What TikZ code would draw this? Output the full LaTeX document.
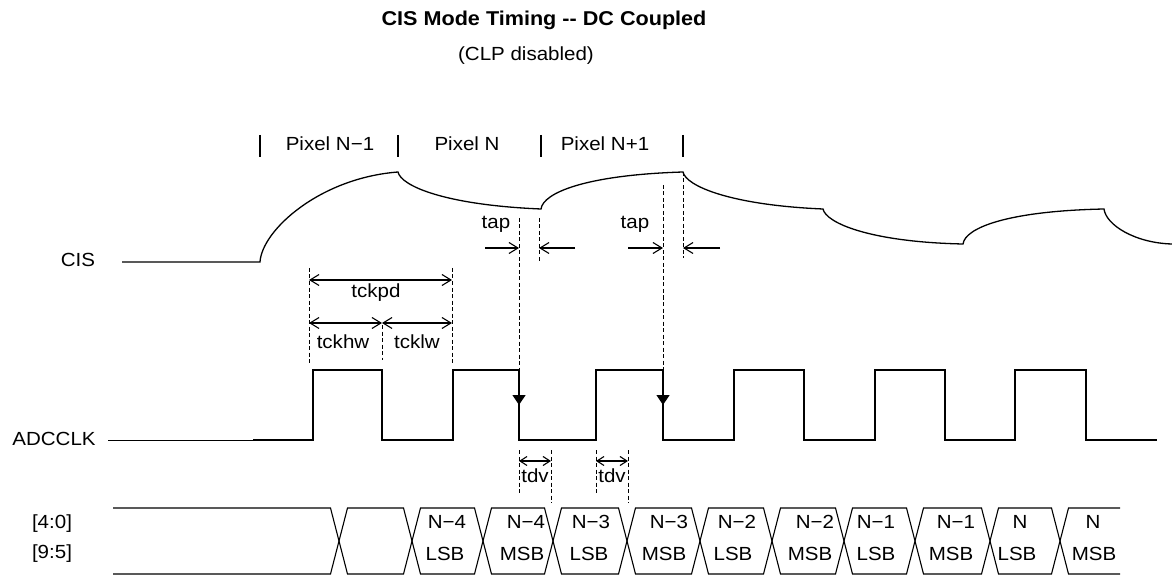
\documentclass[tikz,border=0pt]{standalone}
\usepackage{fontspec}
\setmainfont{Liberation Sans}[FakeStretch=1.08]
\usetikzlibrary{arrows.meta}
\tikzset{
  wave/.style={line width=1.3pt, line join=miter},
  thinwave/.style={line width=0.8pt},
  bus/.style={line width=1.1pt, line join=miter},
  guide/.style={line width=0.8pt, dash pattern=on 4pt off 2.5pt},
  dimarrow/.style={line width=1.1pt, {Straight Barb[length=9pt,width=11pt]}-{Straight Barb[length=9pt,width=11pt]}},
  smallarrow/.style={line width=1.1pt, {Straight Barb[length=7pt,width=9pt]}-{Straight Barb[length=7pt,width=9pt]}},
  taparrow/.style={line width=1.1pt, -{Straight Barb[length=9pt,width=11pt]}},
  edgemark/.style={line width=1.3pt, -{Triangle[length=10pt,width=13pt]}},
  lbl/.style={font=\fontsize{19}{22}\selectfont, inner sep=0pt, anchor=base},
  ttl/.style={font=\fontsize{20}{23}\selectfont\bfseries, inner sep=0pt, anchor=base},
}
\begin{document}
\begin{tikzpicture}[x=1pt,y=-1pt]
\useasboundingbox (0,0) rectangle (1172,577);

% titles
\node[ttl] (title) at (544,26) {CIS Mode Timing -{}- DC Coupled};
\node[lbl] (subtitle) at (526,61) {(CLP disabled)};

% pixel labels
\draw[line width=1.4pt] (260,135) -- (260,157);
\draw[line width=1.4pt] (398,135) -- (398,157);
\draw[line width=1.4pt] (541,135) -- (541,157);
\draw[line width=1.4pt] (683,135) -- (683,157);
\node[lbl] (pxa) at (330,151) {Pixel N−1};
\node[lbl] (pxb) at (467,151) {Pixel N};
\node[lbl] (pxc) at (605,151) {Pixel N+1};

% signal names
\node[lbl] (cislbl) at (78,267) {CIS};
\node[lbl] (clklbl) at (54,445) {ADCCLK};
\node[lbl] (bus1) at (52,528) {[4:0]};
\node[lbl] (bus2) at (52,558) {[9:5]};

% CIS waveform
\draw[wave] (122,262) -- (260,262)
  .. controls (262,230) and (320,178) .. (398,172)
  .. controls (401,186) and (445,205) .. (541,209)
  .. controls (543,193) and (585,175) .. (683,172)
  .. controls (686,186) and (730,205) .. (823,209)
  .. controls (826,223) and (870,242) .. (963,244)
  .. controls (965,228) and (1007,211) .. (1104,209)
  .. controls (1106,225) and (1135,243) .. (1172,244);

% ADCCLK waveform
\draw[thinwave] (108,440) -- (253,440);
\draw[wave] (253,440) -- (313,440) -- (313,370) -- (382,370) -- (382,440)
  -- (453,440) -- (453,370) -- (519,370) -- (519,440)
  -- (596,440) -- (596,370) -- (663,370) -- (663,440)
  -- (734,440) -- (734,370) -- (804,370) -- (804,440)
  -- (875,440) -- (875,370) -- (945,370) -- (945,440)
  -- (1015,440) -- (1015,370) -- (1086,370) -- (1086,440) -- (1157,440);
\draw[edgemark] (519,380) -- (519,405);
\draw[edgemark] (663,380) -- (663,405);

% tap guides
\coordinate (tapAt) at (519,218); \coordinate (tapAb) at (519,370);
\coordinate (tapBt) at (539,218); \coordinate (tapBb) at (539,263);
\coordinate (tapCt) at (663,185); \coordinate (tapCb) at (663,370);
\coordinate (tapDt) at (683,172); \coordinate (tapDb) at (683,258);
\draw[guide] (tapAt) -- (tapAb);
\draw[guide] (tapBt) -- (tapBb);
\draw[guide] (tapCt) -- (tapCb);
\draw[guide] (tapDt) -- (tapDb);
\coordinate (a1s) at (485,248); \coordinate (a1e) at (519,248);
\coordinate (a2s) at (575,248); \coordinate (a2e) at (539,248);
\coordinate (a3s) at (628,248); \coordinate (a3e) at (663,248);
\coordinate (a4s) at (720,248); \coordinate (a4e) at (683,248);
\draw[taparrow] (a1s) -- (a1e);
\draw[taparrow] (a2s) -- (a2e);
\draw[taparrow] (a3s) -- (a3e);
\draw[taparrow] (a4s) -- (a4e);
\node[lbl] (tap1) at (496,229) {tap};
\node[lbl] (tap2) at (635,229) {tap};

% clock period guides
\draw[guide] (309,268) -- (309,363);
\draw[guide] (452,268) -- (452,363);
\draw[guide] (382,325) -- (382,360);
\coordinate (pdL) at (309,280); \coordinate (pdR) at (452,280);
\coordinate (hwL) at (309,323); \coordinate (hwM) at (382,323); \coordinate (hwR) at (452,323);
\draw[dimarrow] (pdL) -- (pdR);
\draw[dimarrow] (hwL) -- (hwM);
\draw[dimarrow] (hwM) -- (hwR);
\node[lbl] (tckpd) at (376,298) {tckpd};
\node[lbl] (tckhw) at (343,348) {tckhw};
\node[lbl] (tcklw) at (417,348) {tcklw};

% tdv guides
\draw[guide] (519,450) -- (519,493);
\draw[guide] (551,450) -- (551,503);
\draw[guide] (596,450) -- (596,493);
\draw[guide] (628,450) -- (628,503);
\coordinate (d1L) at (519,461); \coordinate (d1R) at (551,461);
\coordinate (d2L) at (596,461); \coordinate (d2R) at (628,461);
\draw[smallarrow] (d1L) -- (d1R);
\draw[smallarrow] (d2L) -- (d2R);
\node[lbl] (tdv1) at (535,482) {tdv};
\node[lbl] (tdv2) at (612,482) {tdv};

% data bus
\draw[bus] (113,508) -- (330.5,508) -- (347.5,574) -- (403.5,574) -- (420.5,508)
  -- (474.5,508) -- (491.5,574) -- (544.5,574) -- (561.5,508)
  -- (618.5,508) -- (635.5,574) -- (691.5,574) -- (708.5,508)
  -- (763.5,508) -- (780.5,574) -- (835.5,574) -- (852.5,508)
  -- (906.5,508) -- (923.5,574) -- (981.5,574) -- (998.5,508)
  -- (1051.5,508) -- (1068.5,574) -- (1120,574);
\draw[bus] (113,574) -- (330.5,574) -- (347.5,508) -- (403.5,508) -- (420.5,574)
  -- (474.5,574) -- (491.5,508) -- (544.5,508) -- (561.5,574)
  -- (618.5,574) -- (635.5,508) -- (691.5,508) -- (708.5,574)
  -- (763.5,574) -- (780.5,508) -- (835.5,508) -- (852.5,574)
  -- (906.5,574) -- (923.5,508) -- (981.5,508) -- (998.5,574)
  -- (1051.5,574) -- (1068.5,508) -- (1120,508);

% data labels
\node[lbl] (c1a) at (447,528) {N−4};  \node[lbl] (c1b) at (445,560) {LSB};
\node[lbl] (c2a) at (526,528) {N−4};  \node[lbl] (c2b) at (522,560) {MSB};
\node[lbl] (c3a) at (591,528) {N−3};  \node[lbl] (c3b) at (589,560) {LSB};
\node[lbl] (c4a) at (669,528) {N−3};  \node[lbl] (c4b) at (664,560) {MSB};
\node[lbl] (c5a) at (737,528) {N−2};  \node[lbl] (c5b) at (733,560) {LSB};
\node[lbl] (c6a) at (815,528) {N−2};  \node[lbl] (c6b) at (810,560) {MSB};
\node[lbl] (c7a) at (876,528) {N−1};  \node[lbl] (c7b) at (876,560) {LSB};
\node[lbl] (c8a) at (956,528) {N−1};  \node[lbl] (c8b) at (951,560) {MSB};
\node[lbl] (c9a) at (1020,528) {N};   \node[lbl] (c9b) at (1017,560) {LSB};
\node[lbl] (c10a) at (1093,528) {N};  \node[lbl] (c10b) at (1094,560) {MSB};
\end{tikzpicture}
\end{document}
